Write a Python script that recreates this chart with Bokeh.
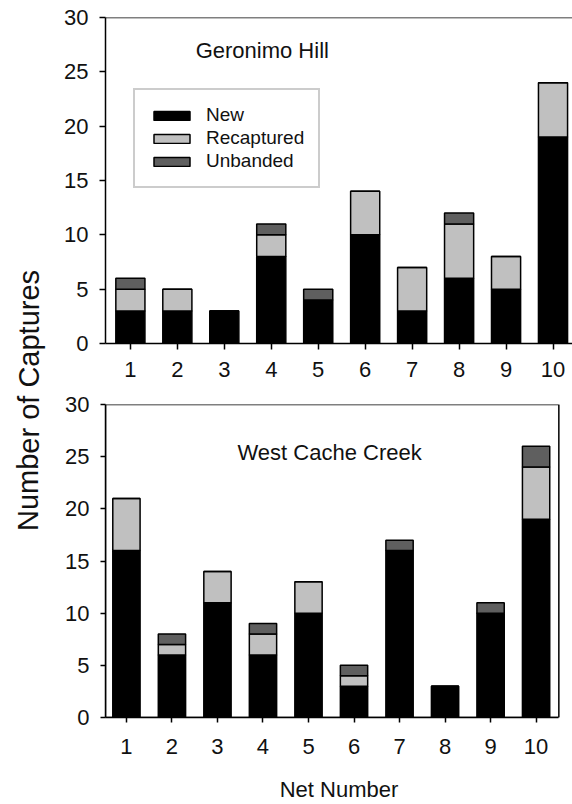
from bokeh.plotting import figure
from bokeh.layouts import row, column
from bokeh.models import (ColumnDataSource, FixedTicker, Span, Label, Legend, Range1d,
                          BoxAnnotation)
from bokeh.embed import file_html
from bokeh.resources import INLINE

# ---- data ----
nets = [1, 2, 3, 4, 5, 6, 7, 8, 9, 10]
categories = ["New", "Recaptured", "Unbanded"]
gh_new = [3, 3, 3, 8, 4, 10, 3, 6, 5, 19]
gh_recap = [2, 2, 0, 2, 0, 4, 4, 5, 3, 5]
gh_unb = [1, 0, 0, 1, 1, 0, 0, 1, 0, 0]
wc_new = [16, 6, 11, 6, 10, 3, 16, 3, 10, 19]
wc_recap = [5, 1, 3, 2, 3, 1, 0, 0, 0, 5]
wc_unb = [0, 1, 0, 1, 0, 1, 1, 0, 1, 2]
y_ticks = [0, 5, 10, 15, 20, 25, 30]

FONT = "Liberation Sans"
colors = ["#000000", "#c0c0c0", "#5f5f5f"]


def style(p, tick_out=6, x_standoff=12):
    p.grid.visible = False
    for ax in (p.xaxis, p.yaxis):
        ax.axis_line_color = "black"
        ax.axis_line_width = 1.5
        ax.major_tick_line_color = "black"
        ax.major_tick_line_width = 1.5
        ax.major_tick_in = 0
        ax.major_tick_out = tick_out
        ax.minor_tick_line_color = None
        ax.major_label_text_font = FONT
        ax.major_label_text_font_size = "22px"
        ax.major_label_text_color = "#111111"
    p.xaxis.ticker = FixedTicker(ticks=nets)
    p.yaxis.ticker = FixedTicker(ticks=y_ticks)
    p.xaxis.major_label_standoff = x_standoff
    p.yaxis.major_label_standoff = 11
    p.background_fill_color = "white"
    p.border_fill_color = "white"


def bars(p, new, recap, unb, width):
    src = ColumnDataSource(dict(net=nets, New=new, Recaptured=recap, Unbanded=unb))
    return p.vbar_stack(categories, x="net", width=width, source=src,
                        fill_color=colors, line_color="black", line_width=1.5)


# ---- y label column ----
lab = figure(width=56, height=804, x_range=Range1d(0, 56), y_range=Range1d(0, 804),
             x_axis_type=None, y_axis_type=None, toolbar_location=None,
             output_backend="svg", min_border=0, outline_line_color=None)
lab.grid.visible = False
lab.add_layout(Label(x=28, y=404, text="Number of Captures", angle=1.5707963,
                     text_align="center", text_baseline="middle",
                     text_font=FONT, text_font_size="29px", text_color="#111111"))

# ---- top panel ----
top = figure(width=516, height=390, x_range=Range1d(0.47, 10.415), y_range=Range1d(0, 30),
             toolbar_location=None, output_backend="svg",
             min_border_left=49, min_border_right=0, min_border_top=17, min_border_bottom=47,
             outline_line_color=None)
style(top, tick_out=6, x_standoff=12)
r_top = bars(top, gh_new, gh_recap, gh_unb, 0.62)
top.add_layout(Span(location=30, dimension="width", line_color="black", line_width=1.5))
top.add_layout(Label(x=2.39, y=26.95, text="Geronimo Hill", text_align="left",
                     text_baseline="middle", text_font=FONT, text_font_size="22px",
                     text_color="#111111"))
legend = Legend(items=[(c, [r]) for c, r in zip(categories, r_top)],
                location=(28, 155), padding=14, spacing=1, margin=0,
                glyph_width=45, glyph_height=11, label_height=22, label_standoff=12,
                label_text_font=FONT, label_text_font_size="19px", label_text_color="#111111",
                border_line_color="#999999", border_line_width=2,
                background_fill_color="white", background_fill_alpha=1)
top.add_layout(legend)

# ---- bottom panel ----
bot = figure(width=516, height=414, x_range=Range1d(0.54, 10.80), y_range=Range1d(0, 30),
             toolbar_location=None, output_backend="svg",
             min_border_left=49, min_border_right=0, min_border_top=14, min_border_bottom=86,
             outline_line_color=None)
style(bot, tick_out=5, x_standoff=16)
bot.xaxis.bounds = (0.54, 10.5)
bars(bot, wc_new, wc_recap, wc_unb, 0.6)
bot.add_layout(BoxAnnotation(left=0.54, right=10.5, bottom=0, top=30, fill_alpha=0,
                             line_color="black", line_width=1.5, line_alpha=1))
bot.add_layout(Label(x=3.44, y=25.4, text="West Cache Creek", text_align="left",
                     text_baseline="middle", text_font=FONT, text_font_size="22px",
                     text_color="#111111"))
bot.xaxis.axis_label = "Net Number"
bot.xaxis.axis_label_text_font = FONT
bot.xaxis.axis_label_text_font_size = "22px"
bot.xaxis.axis_label_text_font_style = "normal"
bot.xaxis.axis_label_text_color = "#111111"
bot.xaxis.axis_label_standoff = 20

layout = row(lab, column(top, bot, spacing=0), spacing=0)
open("out.html", "w").write(file_html(layout, INLINE))
